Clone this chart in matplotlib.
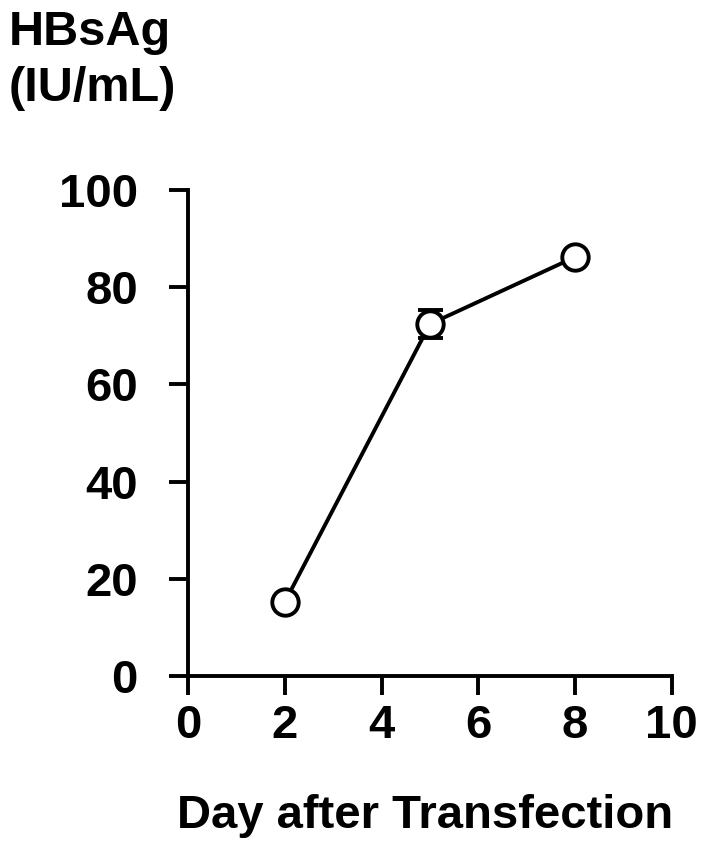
import matplotlib.pyplot as plt

plt.rcParams['font.family'] = ['Liberation Sans', 'DejaVu Sans']
plt.rcParams['font.weight'] = 'bold'

days = [2, 5, 8]
hbsag = [15.2, 72.4, 86.2]
hbsag_err = [0, 2.9, 0]
x_ticks = [0, 2, 4, 6, 8, 10]
y_ticks = [0, 20, 40, 60, 80, 100]

fig = plt.figure(figsize=(7.02, 8.5), dpi=100)
ax = fig.add_axes([0.2678, 0.2047, 0.6892, 0.5718])

ax.errorbar(days, hbsag, yerr=hbsag_err, color='black', lw=2.8,
            marker='o', ms=19, mfc='white', mec='black', mew=2.8,
            capsize=9, capthick=1.8, elinewidth=1.8, clip_on=False, zorder=3)

ax.set_xlim(0, 10)
ax.set_ylim(0, 100)
ax.set_xticks(x_ticks)
ax.set_yticks(y_ticks)
ax.tick_params(length=14, width=2.8, labelsize=34)
ax.tick_params(axis='y', pad=22)
ax.tick_params(axis='x', pad=6)
for s in ['top', 'right']:
    ax.spines[s].set_visible(False)
for s in ['left', 'bottom']:
    ax.spines[s].set_linewidth(2.8)

# x label sits a bit to the left of the axes centre in the original
ax.set_xlabel('Day after Transfection', fontsize=34, fontweight='bold')
ax.xaxis.set_label_coords(0.49, -0.243)
fig.text(0.012, 0.988, 'HBsAg\n(IU/mL)', fontsize=35, fontweight='bold',
         ha='left', va='top', linespacing=1.3)

fig.savefig('out.png', dpi=100)
